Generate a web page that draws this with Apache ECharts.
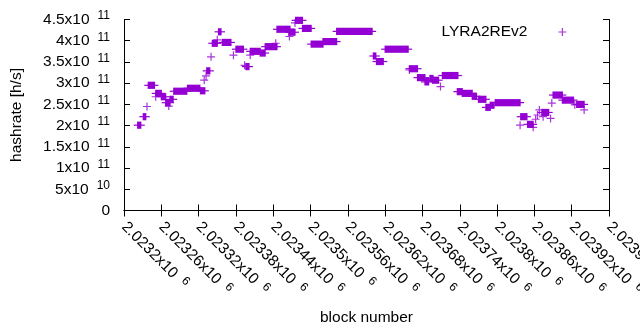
<!DOCTYPE html>
<html>
<head>
<meta charset="utf-8">
<script src="https://cdn.jsdelivr.net/npm/echarts@6/dist/echarts.min.js"></script>
<style>
  html, body { margin: 0; padding: 0; background: #fff; }
  #chart { width: 640px; height: 330px; }
</style>
</head>
<body>
<div id="chart"></div>
<script>
// runs of consecutive blocks with (nearly) the same hashrate
const runStart = [2023222, 2023231, 2023239, 2023251, 2023260, 2023267, 2023274, 2023280, 2023302, 2023323,
  2023333, 2023342, 2023352, 2023358, 2023380, 2023396, 2023403, 2023419, 2023427, 2023446,
  2023465, 2023476, 2023487, 2023501, 2023520, 2023542, 2023601, 2023606, 2023620, 2023659,
  2023672, 2023684, 2023692, 2023696, 2023712, 2023736, 2023744, 2023760, 2023770, 2023782,
  2023789, 2023797, 2023838, 2023849, 2023872, 2023890, 2023905, 2023928]
const runEnd = [2023227, 2023235, 2023249, 2023260, 2023267, 2023274, 2023279, 2023301, 2023322, 2023330,
  2023338, 2023350, 2023356, 2023372, 2023392, 2023401, 2023419, 2023427, 2023446, 2023467,
  2023475, 2023487, 2023501, 2023520, 2023542, 2023599, 2023605, 2023617, 2023657, 2023672,
  2023684, 2023690, 2023697, 2023706, 2023737, 2023744, 2023760, 2023767, 2023782, 2023789,
  2023795, 2023837, 2023848, 2023858, 2023883, 2023905, 2023923, 2023940]
const runValue = [2.01e11, 2.21e11, 2.95e11, 2.76e11, 2.68e11, 2.54e11, 2.62e11, 2.81e11, 2.88e11, 2.82e11,
  3.29e11, 3.94e11, 4.21e11, 3.96e11, 3.80e11, 3.39e11, 3.75e11, 3.71e11, 3.86e11, 4.27e11,
  4.20e11, 4.48e11, 4.29e11, 3.92e11, 3.98e11, 4.22e11, 3.64e11, 3.51e11, 3.80e11, 3.34e11,
  3.13e11, 3.03e11, 3.11e11, 3.07e11, 3.18e11, 2.80e11, 2.76e11, 2.69e11, 2.62e11, 2.43e11,
  2.48e11, 2.54e11, 2.21e11, 2.03e11, 2.31e11, 2.72e11, 2.60e11, 2.50e11]

// single blocks
const pointBlock = [2023237, 2023251, 2023272, 2023329, 2023332, 2023340, 2023350, 2023376, 2023394, 2023403,
  2023444, 2023466, 2023475, 2023659, 2023709, 2023837, 2023858, 2023862, 2023865, 2023868,
  2023874, 2023886, 2023888, 2023925, 2023940]
const pointValue = [2.45e11, 2.68e11, 2.46e11, 3.07e11, 3.17e11, 3.62e11, 4.02e11, 3.66e11, 3.42e11, 3.66e11,
  3.94e11, 4.10e11, 4.42e11, 3.31e11, 2.92e11, 2.01e11, 1.96e11, 2.15e11, 2.25e11, 2.37e11,
  2.21e11, 2.17e11, 2.53e11, 2.49e11, 2.37e11]

const xMin = 2023200
const xMax = 2023980
const xStep = 60
const yMax = 4.5e11
const yStep = 5e10

const purple = '#9400d3'
const font = 'Liberation Sans, Arial, sans-serif'
const plus = 'path://M0,4H8M4,0V8'
// key sample: same plus, pushed to the right end of a wider box (gnuplot leaves a gap after the title)
const keyPlus = 'path://M0,4H0.01M26,4H34M30,0V8'

function sciLabel(v) {
  if (v === 0) return '{m|0}'
  const e = Math.floor(Math.log10(v) + 1e-9)
  const m = +(v / Math.pow(10, e)).toFixed(5)
  return '{m|' + m + 'x10}{e|' + e + '}'
}

const labelRich = {
  m: { fontSize: 15.5, fontFamily: font, color: '#000' },
  e: { fontSize: 12, fontFamily: font, color: '#000', padding: [0, 0, 7, 8] }
}

const chart = echarts.init(document.getElementById('chart'), null, { renderer: 'canvas' })

const option = {
  animation: false,
  backgroundColor: '#fff',
  grid: { left: 124, right: 31, top: 19.5, bottom: 119.5, containLabel: false, outerBoundsMode: 'none' },
  legend: {
    data: ['LYRA2REv2'],
    align: 'right',
    right: 68,
    top: 19,
    icon: keyPlus,
    itemWidth: 34,
    itemHeight: 8,
    itemStyle: { color: '#fff', borderColor: purple, borderWidth: 1.2 },
    textStyle: { fontSize: 15.5, fontFamily: font, color: '#000' }
  },
  xAxis: [{
    type: 'value',
    min: xMin,
    max: xMax,
    interval: xStep,
    name: 'block number',
    nameLocation: 'middle',
    nameGap: 99,
    nameTextStyle: { fontSize: 15.5, fontFamily: font, color: '#000' },
    axisLine: { lineStyle: { color: '#000', width: 1 } },
    axisTick: { inside: true, length: 6, lineStyle: { color: '#000' } },
    splitLine: { show: false },
    axisLabel: {
      rotate: -45,
      margin: 14,
      showMaxLabel: true,
      fontSize: 15.5,
      fontFamily: font,
      color: '#000',
      formatter: v => sciLabel(v),
      rich: labelRich
    }
  }, {
    type: 'value',
    position: 'top',
    min: xMin,
    max: xMax,
    interval: xStep,
    axisLine: { lineStyle: { color: '#000', width: 1 } },
    axisTick: { inside: true, length: 6, lineStyle: { color: '#000' } },
    axisLabel: { show: false },
    splitLine: { show: false }
  }],
  yAxis: [{
    type: 'value',
    min: 0,
    max: yMax,
    interval: yStep,
    name: 'hashrate [h/s]',
    nameLocation: 'middle',
    nameGap: 99,
    nameTextStyle: { fontSize: 15.5, fontFamily: font, color: '#000' },
    axisLine: { show: true, lineStyle: { color: '#000', width: 1 } },
    axisTick: { show: true, inside: true, length: 6, lineStyle: { color: '#000' } },
    splitLine: { show: false },
    axisLabel: {
      margin: 14,
      fontSize: 15.5,
      fontFamily: font,
      color: '#000',
      formatter: v => sciLabel(v),
      rich: labelRich
    }
  }, {
    type: 'value',
    position: 'right',
    min: 0,
    max: yMax,
    interval: yStep,
    axisLine: { show: true, lineStyle: { color: '#000', width: 1 } },
    axisTick: { show: true, inside: true, length: 6, lineStyle: { color: '#000' } },
    axisLabel: { show: false },
    splitLine: { show: false }
  }],
  series: [{
    name: 'LYRA2REv2',
    type: 'scatter',
    symbol: plus,
    symbolSize: 8,
    itemStyle: { color: 'transparent', borderColor: purple, borderWidth: 1.2 },
    data: pointBlock.map((b, i) => [b, pointValue[i]])
  }, {
    name: 'runs',
    type: 'custom',
    data: runStart.map((s, i) => [s, runEnd[i], runValue[i]]),
    encode: { x: [0, 1], y: 2 },
    renderItem: function (params, api) {
      const p1 = api.coord([api.value(0), api.value(2)])
      const p2 = api.coord([api.value(1), api.value(2)])
      return {
        type: 'group',
        children: [{
          type: 'rect',
          shape: { x: p1[0] - 0.6, y: p1[1] - 3.6, width: p2[0] - p1[0] + 1.2, height: 7.2 },
          style: { fill: purple }
        }, {
          type: 'line',
          shape: { x1: p1[0] - 4, y1: p1[1], x2: p2[0] + 4, y2: p1[1] },
          style: { stroke: purple, lineWidth: 1.2 }
        }]
      }
    }
  }]
}

chart.setOption(option)
</script>
</body>
</html>
